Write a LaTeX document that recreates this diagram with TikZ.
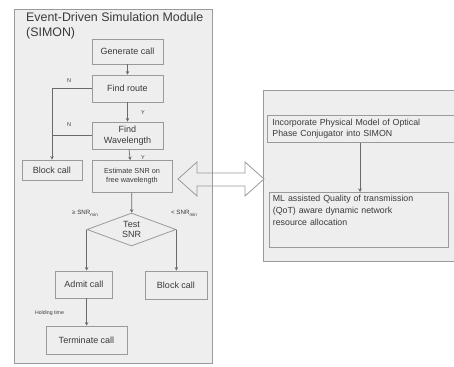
\documentclass[tikz,border=0pt]{standalone}
\usepackage{fontspec}
\setmainfont{Liberation Sans}
\usetikzlibrary{shapes.geometric,arrows.meta}
\definecolor{panelfill}{HTML}{EEEEEE}
\definecolor{edgegray}{HTML}{9A9A9A}
\definecolor{txtgray}{HTML}{3A3A3A}
\definecolor{arrgray}{HTML}{6A6A6A}
\tikzset{
  stepbox/.style={draw=edgegray, fill=panelfill, line width=0.8pt, text=txtgray, inner sep=1pt, align=center, font=\fontsize{9}{10.5}\selectfont},
  flow/.style={draw=arrgray, line width=0.7pt, -{Stealth[length=3.5pt,width=3.5pt]}},
  plain/.style={draw=arrgray, line width=0.7pt},
  smalllab/.style={text=txtgray, font=\fontsize{5.5}{6}\selectfont, inner sep=0pt},
}
\begin{document}
\begin{tikzpicture}[x=1pt,y=-1pt]
\useasboundingbox (0,0) rectangle (454,366);
% panels
\fill[white] (0,0) rectangle (454,366);
\filldraw[fill=panelfill, draw=edgegray, line width=0.8pt] (14,9) rectangle (212,363);
\fill[panelfill] (263,90) rectangle (454,261);
\draw[edgegray, line width=0.8pt] (455,90) -- (263,90) -- (263,261) -- (455,261);
% title
\node[anchor=north west, align=left, text=txtgray, inner sep=0pt, font=\fontsize{12.4}{15}\selectfont] (title) at (26,12.5) {Event-Driven Simulation Module\\(SIMON)};
% left flow
\node[stepbox, minimum width=71pt, minimum height=25pt] (gen) at (127.5,51.5) {Generate call};
\node[stepbox, minimum width=71pt, minimum height=27pt] (route) at (127.5,88.5) {Find route};
\node[stepbox, minimum width=71pt, minimum height=27pt] (wl) at (127.5,135.5) {Find\\Wavelength};
\node[stepbox, minimum width=60pt, minimum height=20pt] (blockL) at (52,170) {Block call};
\node[stepbox, minimum width=80pt, minimum height=32pt, font=\fontsize{7.3}{9}\selectfont] (snr) at (132,176.5) {Estimate SNR on\\free wavelength};
\node[draw=edgegray, fill=panelfill, line width=0.8pt, text=txtgray, shape=diamond, aspect=2.7, inner sep=0pt, minimum width=89pt, minimum height=33pt, align=center, font=\fontsize{9}{10.5}\selectfont] (test) at (131.5,229.5) {Test\\SNR};
\node[stepbox, minimum width=57pt, minimum height=27pt] (admit) at (84,284.5) {Admit call};
\node[stepbox, minimum width=62pt, minimum height=28pt] (blockR) at (176,285) {Block call};
\node[stepbox, minimum width=81pt, minimum height=28pt] (term) at (86.5,340) {Terminate call};
% connectors
\draw[flow] (gen) -- (route);
\draw[flow] (route) -- (wl);
\draw[flow] (wl) -- (snr);
\draw[flow] (snr) -- (test);
\draw[flow] (route.west) -| (blockL.north);
\draw[plain] (wl.west) -- (wl.west -| blockL.north);
\draw[flow] (test.west) -- (test.west |- admit.north);
\draw[flow] (test.east) -- (test.east |- blockR.north);
\draw[flow] (test.west |- admit.south) -- (test.west |- term.north);
% labels
\node[smalllab] (n1) at (69,81) {N};
\node[smalllab] (n2) at (69,125) {N};
\node[smalllab] (y1) at (143,113) {Y};
\node[smalllab] (y2) at (143,157.5) {Y};
\node[smalllab, font=\fontsize{6.2}{7}\selectfont] (ge) at (85,213) {≥ SNR\raisebox{-1.8pt}{\fontsize{4.6}{5}\selectfont min}};
\node[smalllab, font=\fontsize{6.2}{7}\selectfont] (lt) at (184,213) {< SNR\raisebox{-1.8pt}{\fontsize{4.6}{5}\selectfont min}};
\node[smalllab, font=\fontsize{5.2}{6}\selectfont] (hold) at (49.5,313) {Holding time};
% right panel
\node[stepbox, anchor=north west, minimum width=186pt, minimum height=27pt, align=left, text width=178pt, inner xsep=5pt, inner ysep=2.5pt, font=\fontsize{8.8}{11.5}\selectfont] (phys) at (267,115) {Incorporate Physical Model of Optical\\Phase Conjugator into SIMON};
\node[stepbox, anchor=north west, minimum width=179pt, minimum height=50pt, align=left, text width=172pt, inner xsep=3.5pt, inner ysep=2.5pt, font=\fontsize{8.8}{12}\selectfont] (ml) at (269,192) {ML assisted Quality of transmission\\(QoT) aware dynamic network\\resource allocation\\[8pt]\mbox{}};
\draw[flow] (phys.south -| 360,0) -- (ml.north -| 360,0);
% double arrow between panels
\coordinate (ltip) at (178,179);
\coordinate (rtip) at (264,179);
\draw[edgegray, line width=0.8pt] (ltip) -- (197,162) -- (197,173) -- (245,173) -- (245,162) -- (rtip) -- (245,196) -- (245,186) -- (197,186) -- (197,196) -- cycle;
\end{tikzpicture}
\end{document}
